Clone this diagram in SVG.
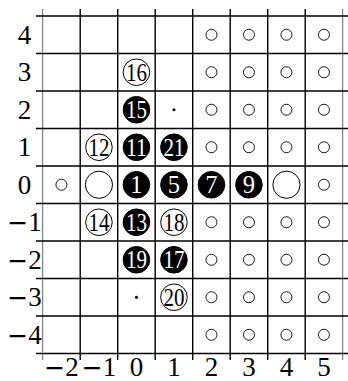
<svg xmlns="http://www.w3.org/2000/svg" width="348" height="381" viewBox="0 0 348 381">
<style>
.g{stroke:#000;stroke-width:1.4;fill:none}
.go{stroke:#666;stroke-width:1;fill:none}
.lab{font-family:"Liberation Serif","Times New Roman",serif;font-size:27px;fill:#000;text-anchor:middle}
.m{font-family:"DejaVu Sans",sans-serif;font-size:25px}
.num{font-family:"Liberation Serif","Times New Roman",serif;font-size:24.5px;text-anchor:middle}
.b circle{fill:#000;stroke:#000;stroke-width:1}
.b text{fill:#fff}
.w circle{fill:#fff;stroke:#000;stroke-width:1}
.w text{fill:#000}
.s{fill:#fff;stroke:#000;stroke-width:0.9}
.d{fill:#000}
</style>
<rect width="348" height="381" fill="#fff"/>
<g id="grid">
<path class="go" d="M42.7,9V360M342.7,9V360"/>
<path class="g" d="M80.2,9V360M117.7,9V360M155.2,9V360M192.7,9V360M230.2,9V360M267.7,9V360M305.2,9V360"/>
<path class="g" d="M36,16H348M36,53.5H348M36,91H348M36,128.5H348M36,166H348M36,203.5H348M36,241H348M36,278.5H348M36,316H348M36,353.5H348"/>
</g>
<g id="row-labels" class="lab">
<text x="24.5" y="43.8">4</text>
<text x="24.5" y="81.3">3</text>
<text x="24.5" y="118.8">2</text>
<text x="24.5" y="156.3">1</text>
<text x="24.5" y="193.8">0</text>
<text x="24.5" y="231.3"><tspan class="m">−</tspan>1</text>
<text x="24.5" y="268.8"><tspan class="m">−</tspan>2</text>
<text x="24.5" y="306.3"><tspan class="m">−</tspan>3</text>
<text x="24.5" y="343.8"><tspan class="m">−</tspan>4</text>
</g>
<g id="col-labels" class="lab">
<text x="61.5" y="375.5"><tspan class="m">−</tspan>2</text>
<text x="99" y="375.5"><tspan class="m">−</tspan>1</text>
<text x="136.5" y="375.5">0</text>
<text x="174" y="375.5">1</text>
<text x="211.5" y="375.5">2</text>
<text x="249" y="375.5">3</text>
<text x="286.5" y="375.5">4</text>
<text x="324" y="375.5">5</text>
</g>
<g id="small-circles">
<circle class="s" cx="211.45" cy="34.75" r="5.5"/><circle class="s" cx="248.95" cy="34.75" r="5.5"/><circle class="s" cx="286.45" cy="34.75" r="5.5"/><circle class="s" cx="323.95" cy="34.75" r="5.5"/>
<circle class="s" cx="211.45" cy="72.25" r="5.5"/><circle class="s" cx="248.95" cy="72.25" r="5.5"/><circle class="s" cx="286.45" cy="72.25" r="5.5"/><circle class="s" cx="323.95" cy="72.25" r="5.5"/>
<circle class="s" cx="211.45" cy="109.75" r="5.5"/><circle class="s" cx="248.95" cy="109.75" r="5.5"/><circle class="s" cx="286.45" cy="109.75" r="5.5"/><circle class="s" cx="323.95" cy="109.75" r="5.5"/>
<circle class="s" cx="211.45" cy="147.25" r="5.5"/><circle class="s" cx="248.95" cy="147.25" r="5.5"/><circle class="s" cx="286.45" cy="147.25" r="5.5"/><circle class="s" cx="323.95" cy="147.25" r="5.5"/>
<circle class="s" cx="61.45" cy="184.75" r="5.5"/><circle class="s" cx="323.95" cy="184.75" r="5.5"/>
<circle class="s" cx="211.45" cy="222.25" r="5.5"/><circle class="s" cx="248.95" cy="222.25" r="5.5"/><circle class="s" cx="286.45" cy="222.25" r="5.5"/><circle class="s" cx="323.95" cy="222.25" r="5.5"/>
<circle class="s" cx="211.45" cy="259.75" r="5.5"/><circle class="s" cx="248.95" cy="259.75" r="5.5"/><circle class="s" cx="286.45" cy="259.75" r="5.5"/><circle class="s" cx="323.95" cy="259.75" r="5.5"/>
<circle class="s" cx="211.45" cy="297.25" r="5.5"/><circle class="s" cx="248.95" cy="297.25" r="5.5"/><circle class="s" cx="286.45" cy="297.25" r="5.5"/><circle class="s" cx="323.95" cy="297.25" r="5.5"/>
<circle class="s" cx="211.45" cy="334.75" r="5.5"/><circle class="s" cx="248.95" cy="334.75" r="5.5"/><circle class="s" cx="286.45" cy="334.75" r="5.5"/><circle class="s" cx="323.95" cy="334.75" r="5.5"/>
</g>
<g id="dots">
<circle class="d" cx="173.95" cy="109.75" r="1.6"/>
<circle class="d" cx="136.45" cy="297.25" r="1.6"/>
</g>
<g id="big-open-1" class="w"><circle cx="98.95" cy="184.75" r="13.6"/></g>
<g id="big-open-2" class="w"><circle cx="286.45" cy="184.75" r="13.6"/></g>
<g id="s1" class="b num"><circle cx="136.45" cy="184.75" r="13.3"/><text x="136.45" y="193">1</text></g>
<g id="s5" class="b num"><circle cx="173.95" cy="184.75" r="13.3"/><text x="173.95" y="193">5</text></g>
<g id="s7" class="b num"><circle cx="211.45" cy="184.75" r="13.3"/><text x="211.45" y="193">7</text></g>
<g id="s9" class="b num"><circle cx="248.95" cy="184.75" r="13.3"/><text x="248.95" y="193">9</text></g>
<g id="s11" class="b num"><circle cx="136.45" cy="147.25" r="13.3"/><text x="136.45" y="155.5" textLength="21" lengthAdjust="spacingAndGlyphs">11</text></g>
<g id="s12" class="w num"><circle cx="98.95" cy="147.25" r="13.3"/><text x="98.95" y="155.5" textLength="21" lengthAdjust="spacingAndGlyphs">12</text></g>
<g id="s13" class="b num"><circle cx="136.45" cy="222.25" r="13.3"/><text x="136.45" y="230.5" textLength="21" lengthAdjust="spacingAndGlyphs">13</text></g>
<g id="s14" class="w num"><circle cx="98.95" cy="222.25" r="13.3"/><text x="98.95" y="230.5" textLength="21" lengthAdjust="spacingAndGlyphs">14</text></g>
<g id="s15" class="b num"><circle cx="136.45" cy="109.75" r="13.3"/><text x="136.45" y="118" textLength="21" lengthAdjust="spacingAndGlyphs">15</text></g>
<g id="s16" class="w num"><circle cx="136.45" cy="72.25" r="13.3"/><text x="136.45" y="80.5" textLength="21" lengthAdjust="spacingAndGlyphs">16</text></g>
<g id="s17" class="b num"><circle cx="173.95" cy="259.75" r="13.3"/><text x="173.95" y="268" textLength="21" lengthAdjust="spacingAndGlyphs">17</text></g>
<g id="s18" class="w num"><circle cx="173.95" cy="222.25" r="13.3"/><text x="173.95" y="230.5" textLength="21" lengthAdjust="spacingAndGlyphs">18</text></g>
<g id="s19" class="b num"><circle cx="136.45" cy="259.75" r="13.3"/><text x="136.45" y="268" textLength="21" lengthAdjust="spacingAndGlyphs">19</text></g>
<g id="s20" class="w num"><circle cx="173.95" cy="297.25" r="13.3"/><text x="173.95" y="305.5" textLength="21" lengthAdjust="spacingAndGlyphs">20</text></g>
<g id="s21" class="b num"><circle cx="173.95" cy="147.25" r="13.3"/><text x="173.95" y="155.5" textLength="21" lengthAdjust="spacingAndGlyphs">21</text></g>
</svg>
